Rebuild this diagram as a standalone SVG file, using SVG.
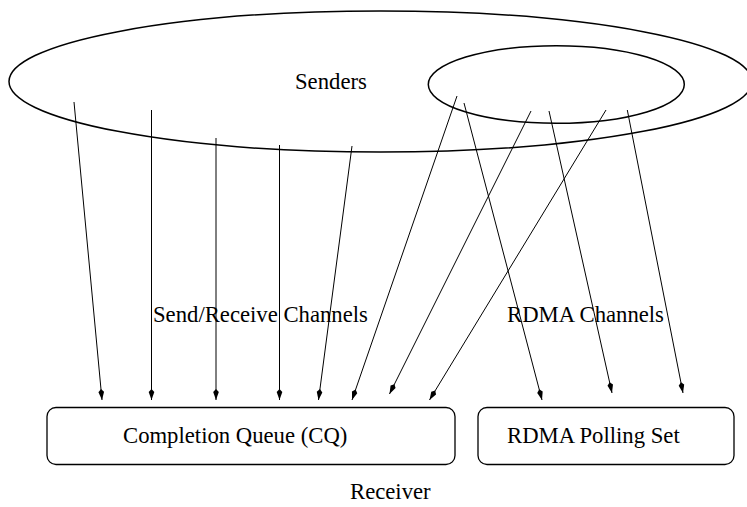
<svg xmlns="http://www.w3.org/2000/svg" width="747" height="507" viewBox="0 0 747 507">
<style>
text{font-family:"Liberation Serif","Times New Roman",serif;font-size:22.7px;fill:#000}
.sh{fill:none;stroke:#000;stroke-width:1.5}
.box{fill:none;stroke:#000;stroke-width:1.3}
.edge{fill:none;stroke:#000;stroke-width:1;marker-end:url(#ah)}
</style>
<defs>
<marker id="ah" markerUnits="userSpaceOnUse" markerWidth="14" markerHeight="8" viewBox="-12 -4 14 8" refX="0" refY="0" orient="auto">
<path d="M0,0 L-8,-2.8 L-11,0 L-8,2.8 Z" fill="#000"/>
</marker>
</defs>
<rect width="747" height="507" fill="#fff"/>
<g id="senders">
<ellipse class="sh" cx="380.5" cy="81.5" rx="371.5" ry="70.5"/>
<text x="295" y="89">Senders</text>
</g>
<g id="rdma-senders">
<ellipse class="sh" cx="556.3" cy="84.5" rx="128" ry="38.8"/>
</g>
<g id="connectors">
<line class="edge" x1="74" y1="102" x2="102" y2="400"/>
<line class="edge" x1="151.5" y1="110" x2="151.5" y2="400"/>
<line class="edge" x1="216" y1="138" x2="216" y2="400"/>
<line class="edge" x1="279.5" y1="145" x2="279.5" y2="400"/>
<line class="edge" x1="352" y1="146" x2="318.5" y2="400"/>
<line class="edge" x1="457" y1="96" x2="352" y2="400"/>
<line class="edge" x1="531" y1="111" x2="389.5" y2="394"/>
<line class="edge" x1="606" y1="110" x2="429.5" y2="400"/>
<line class="edge" x1="464" y1="103" x2="542" y2="400"/>
<line class="edge" x1="549" y1="111" x2="612" y2="393"/>
<line class="edge" x1="627.3" y1="110" x2="683" y2="393"/>
</g>
<g id="label-sr">
<text x="153" y="322">Send/Receive Channels</text>
</g>
<g id="label-rdma">
<text x="507" y="322">RDMA Channels</text>
</g>
<g id="cq">
<rect class="box" x="47" y="407.5" width="408" height="57" rx="9"/>
<text x="123" y="443">Completion Queue (CQ)</text>
</g>
<g id="rdma-poll">
<rect class="box" x="478" y="407.5" width="256" height="57" rx="9"/>
<text x="507" y="443">RDMA Polling Set</text>
</g>
<g id="receiver">
<text x="350" y="499">Receiver</text>
</g>
</svg>
